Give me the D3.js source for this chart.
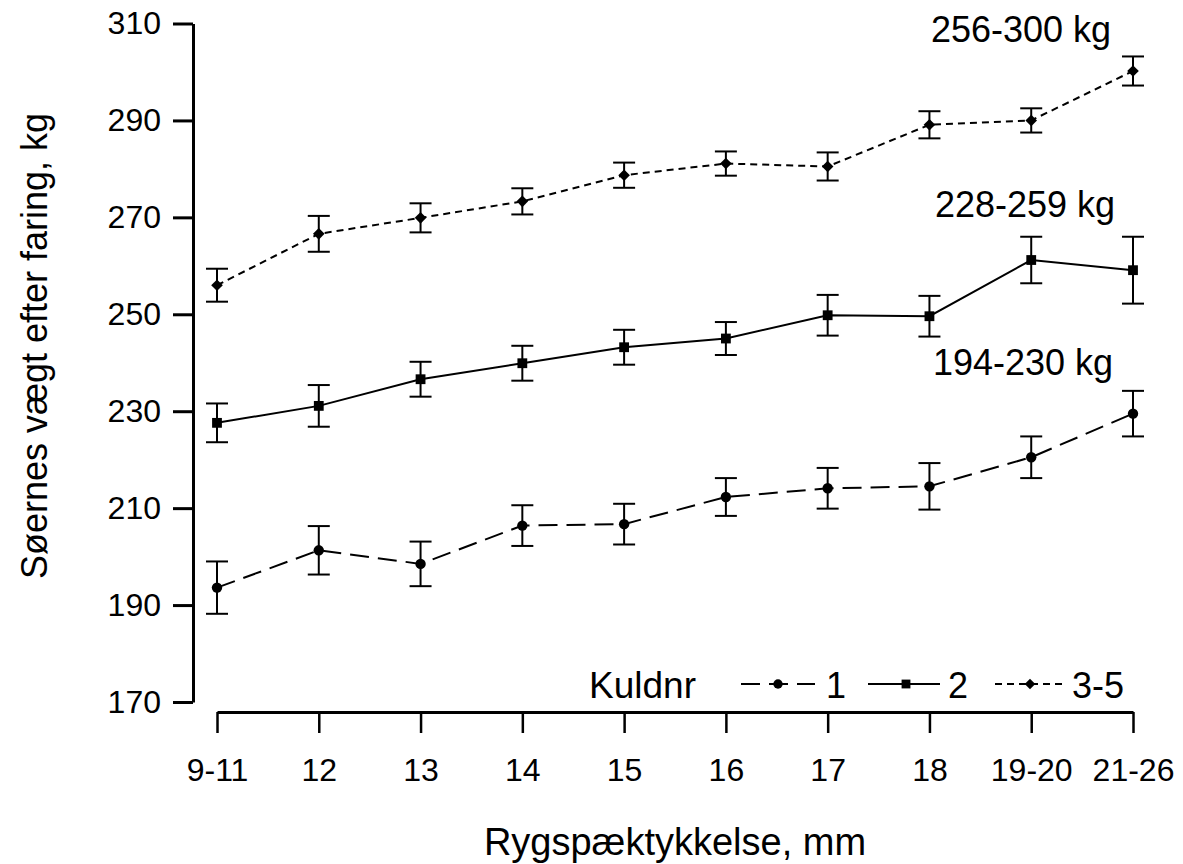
<!DOCTYPE html>
<html>
<head>
<meta charset="utf-8">
<script src="https://cdn.jsdelivr.net/npm/d3@7"></script>
<style>
  html, body { margin: 0; padding: 0; background: #fff; }
  svg { display: block; font-family: "Liberation Sans", Arial, sans-serif; }
</style>
</head>
<body>
<svg id="chart" width="1183" height="864"></svg>
<script>
// ---- data ----
const categories = ["9-11", "12", "13", "14", "15", "16", "17", "18", "19-20", "21-26"];
const yTicks = [170, 190, 210, 230, 250, 270, 290, 310];

const kuld1Mean = [193.6, 201.3, 198.5, 206.4, 206.7, 212.3, 214.1, 214.5, 220.5, 229.5];
const kuld1Err  = [5.4, 5.0, 4.6, 4.2, 4.2, 3.9, 4.2, 4.8, 4.3, 4.7];
const kuld2Mean = [227.6, 231.1, 236.6, 239.9, 243.2, 245.0, 249.8, 249.6, 261.2, 259.1];
const kuld2Err  = [4.0, 4.3, 3.6, 3.6, 3.6, 3.4, 4.2, 4.2, 4.8, 6.9];
const kuld3Mean = [256.0, 266.6, 269.9, 273.3, 278.7, 281.1, 280.5, 289.1, 290.0, 300.2];
const kuld3Err  = [3.4, 3.7, 3.0, 2.7, 2.6, 2.5, 2.9, 2.8, 2.5, 3.0];

const seriesNames = ["1", "2", "3-5"];
const rangeLabels = ["194-230 kg", "228-259 kg", "256-300 kg"];
const legendTitle = "Kuldnr";
const xTitle = "Rygspæktykkelse, mm";
const yTitle = "Søernes vægt efter faring, kg";

// ---- layout ----
const svg = d3.select("#chart");
const x = d3.scalePoint().domain(categories).range([217, 1133]);
const y = d3.scaleLinear().domain([170, 310]).range([702, 23.5]);
const yAxisX = 193, xAxisY = 712;

const series = [
  { name: seriesNames[0], mean: kuld1Mean, err: kuld1Err, dash: "19,9", marker: "circle", label: rangeLabels[0], labelPos: [933, 375] },
  { name: seriesNames[1], mean: kuld2Mean, err: kuld2Err, dash: null, marker: "square", label: rangeLabels[1], labelPos: [935, 217] },
  { name: seriesNames[2], mean: kuld3Mean, err: kuld3Err, dash: "7,5", marker: "diamond", label: rangeLabels[2], labelPos: [931, 42] }
];

function drawMarker(g, type, cx, cy, s) {
  if (type === "circle") {
    g.append("circle").attr("cx", cx).attr("cy", cy).attr("r", 5.2 * s).attr("fill", "#000");
  } else if (type === "square") {
    const h = 4.9 * s;
    g.append("rect").attr("x", cx - h).attr("y", cy - h).attr("width", 2 * h).attr("height", 2 * h).attr("fill", "#000");
  } else {
    const h = 5.8 * s;
    g.append("path").attr("d", `M${cx},${cy - h}L${cx + h},${cy}L${cx},${cy + h}L${cx - h},${cy}Z`).attr("fill", "#000");
  }
}

// ---- axes ----
const yAxis = d3.axisLeft(y).tickValues(yTicks).tickSizeInner(20).tickSizeOuter(0).tickPadding(12);
const gy = svg.append("g").attr("transform", `translate(${yAxisX},0)`).call(yAxis);
gy.select(".domain").attr("stroke", "#000").attr("stroke-width", 3);
gy.selectAll(".tick line").attr("stroke", "#000").attr("stroke-width", 3);
gy.selectAll(".tick text").attr("font-size", 32).attr("fill", "#000")
  .attr("font-family", "'Liberation Sans', Arial, sans-serif");

const xAxis = d3.axisBottom(x).tickSizeInner(21).tickSizeOuter(0).tickPadding(25);
const gx = svg.append("g").attr("transform", `translate(0,${xAxisY})`).call(xAxis);
gx.select(".domain").attr("stroke", "#000").attr("stroke-width", 3);
gx.selectAll(".tick line").attr("stroke", "#000").attr("stroke-width", 2.5);
gx.selectAll(".tick text").attr("font-size", 32).attr("fill", "#000")
  .attr("font-family", "'Liberation Sans', Arial, sans-serif");

// axis titles
svg.append("text").attr("x", 675).attr("y", 855).attr("text-anchor", "middle")
  .attr("font-size", 38).text(xTitle);
svg.append("text").attr("transform", "translate(47,346) rotate(-90)").attr("text-anchor", "middle")
  .attr("font-size", 36).text(yTitle);

// ---- series ----
series.forEach(s => {
  const g = svg.append("g");
  const pts = categories.map((c, i) => ({ c, m: s.mean[i], e: s.err[i] }));
  const line = d3.line().x(d => x(d.c)).y(d => y(d.m));
  const p = g.append("path").datum(pts).attr("d", line)
    .attr("fill", "none").attr("stroke", "#000").attr("stroke-width", 2);
  if (s.dash) p.attr("stroke-dasharray", s.dash);

  // error bars
  const capW = 11;
  pts.forEach(d => {
    const cx = x(d.c), y1 = y(d.m + d.e), y2 = y(d.m - d.e);
    g.append("line").attr("x1", cx).attr("x2", cx).attr("y1", y1).attr("y2", y2)
      .attr("stroke", "#000").attr("stroke-width", 2);
    g.append("line").attr("x1", cx - capW).attr("x2", cx + capW).attr("y1", y1).attr("y2", y1)
      .attr("stroke", "#000").attr("stroke-width", 2);
    g.append("line").attr("x1", cx - capW).attr("x2", cx + capW).attr("y1", y2).attr("y2", y2)
      .attr("stroke", "#000").attr("stroke-width", 2);
    drawMarker(g, s.marker, cx, y(d.m), 1);
  });

  svg.append("text").attr("x", s.labelPos[0]).attr("y", s.labelPos[1])
    .attr("font-size", 36).text(s.label);
});

// ---- legend ----
const lg = svg.append("g");
const ly = 684;
lg.append("text").attr("x", 589).attr("y", 698).attr("font-size", 37).text(legendTitle);
const legendItems = [
  { s: series[0], x1: 741, x2: 815, mx: 778, tx: 826 },
  { s: series[1], x1: 868, x2: 940, mx: 906, tx: 948 },
  { s: series[2], x1: 995, x2: 1067, mx: 1030, tx: 1072 }
];
legendItems.forEach(it => {
  const l = lg.append("line").attr("x1", it.x1).attr("x2", it.x2).attr("y1", ly).attr("y2", ly)
    .attr("stroke", "#000").attr("stroke-width", 2);
  if (it.s.dash) l.attr("stroke-dasharray", it.s.dash);
  drawMarker(lg, it.s.marker, it.mx, ly, 0.9);
  lg.append("text").attr("x", it.tx).attr("y", 698).attr("font-size", 36).text(it.s.name);
});
</script>
</body>
</html>
